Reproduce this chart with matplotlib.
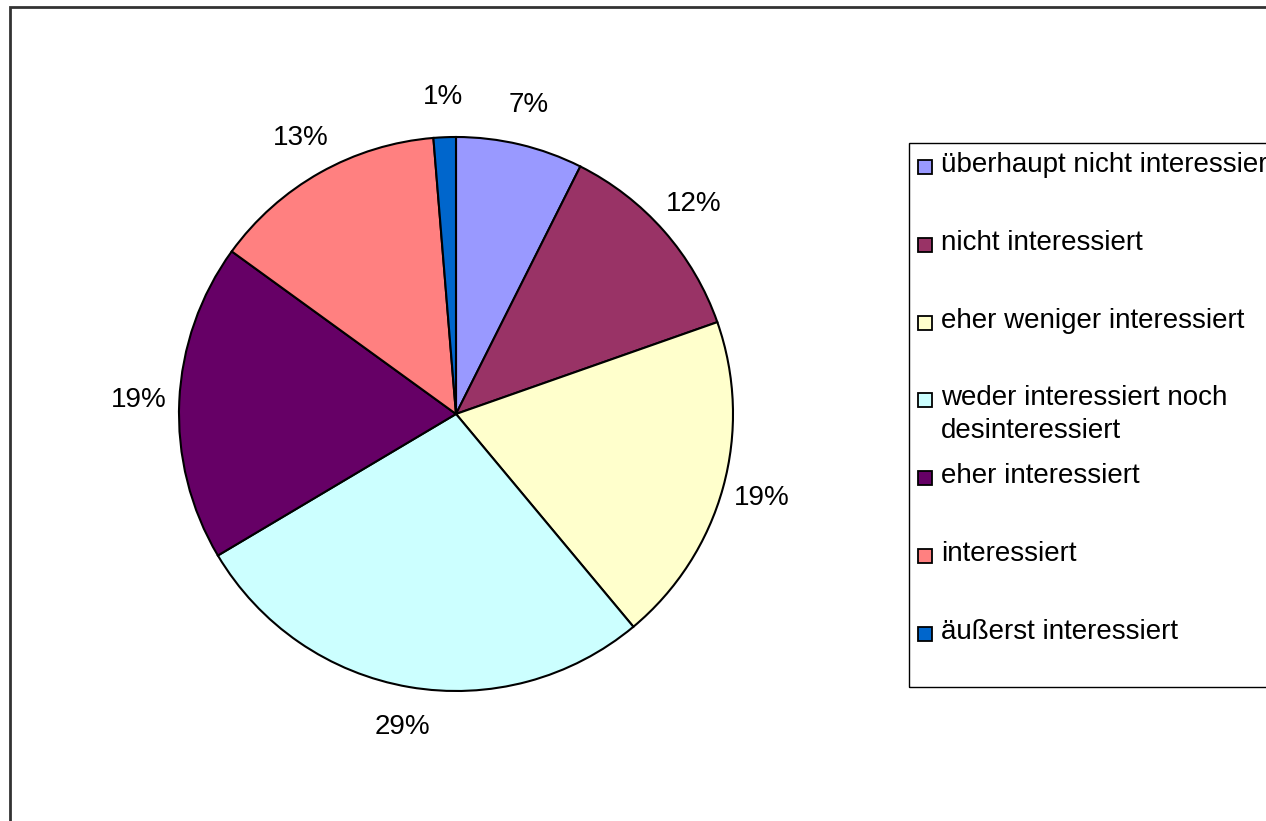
import matplotlib.pyplot as plt
from matplotlib.patches import Rectangle

categories = ["überhaupt nicht interessiert", "nicht interessiert",
              "eher weniger interessiert", "weder interessiert noch\ndesinteressiert",
              "eher interessiert", "interessiert", "äußerst interessiert"]
# slice sizes as drawn in the picture (percent)
shares = [7.4, 12.2, 19.3, 27.5, 18.5, 13.7, 1.3]
# percentages printed on the chart
pct_labels = ["7%", "12%", "19%", "29%", "19%", "13%", "1%"]
colors = ["#9999FF", "#993366", "#FFFFCC", "#CCFFFF", "#660066", "#FF8080", "#0066CC"]

plt.rcParams['font.family'] = ['Liberation Sans', 'DejaVu Sans']
W, H = 1266, 821
fig = plt.figure(figsize=(W / 100, H / 100), dpi=100)

# outer chart frame
fig.add_artist(Rectangle((10 / W, -0.05), 1.1, 1 - 7 / H + 0.05, transform=fig.transFigure,
                         fill=False, edgecolor="#333333", lw=2))

# pie, centre (456, 414) px, radius 277 px
r = 277
ax = fig.add_axes([(456 - r) / W, (H - 414 - r) / H, 2 * r / W, 2 * r / H])
ax.pie(shares, colors=colors, startangle=90, counterclock=False, radius=1,
       labels=pct_labels, labeldistance=1.145,
       wedgeprops=dict(edgecolor="black", linewidth=1.5),
       textprops=dict(fontsize=20))
for t in ax.texts:
    t.set_horizontalalignment("center")
    t.set_verticalalignment("center")
ax.set_aspect("equal")
ax.axis("off")
ax.set_xlim(-1, 1)
ax.set_ylim(-1, 1)

# legend drawn by hand (Excel-style, clipped at right edge)
fig.add_artist(Rectangle((909 / W, (H - 687) / H), 0.4, (687 - 143) / H,
                         transform=fig.transFigure, fill=False, edgecolor="black", lw=1))
y0, step = 165, 77.8
for i, (lab, c) in enumerate(zip(categories, colors)):
    y = y0 + i * step
    fig.add_artist(Rectangle((918 / W, (H - y - 9) / H), 14 / W, 14 / H,
                             transform=fig.transFigure, facecolor=c, edgecolor="black", lw=1.3))
    lines = lab.split("\n")
    for j, line in enumerate(lines):
        fig.text(941 / W, (H - y - 33 * j) / H, line, fontsize=20, va="center", ha="left")

fig.savefig("out.png", dpi=100)
